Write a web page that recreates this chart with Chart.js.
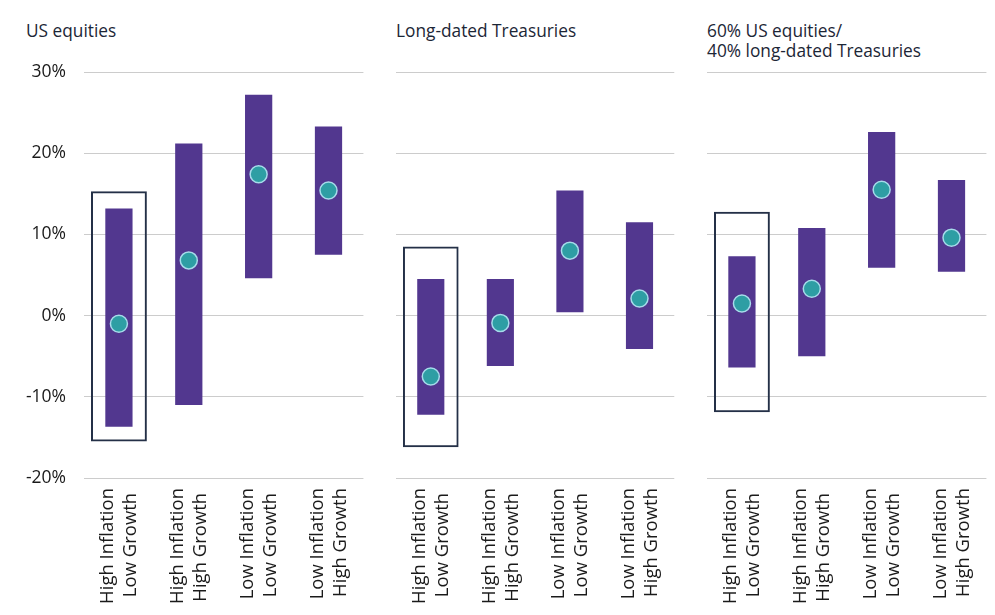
<!DOCTYPE html>
<html>
<head>
<meta charset="utf-8">
<script src="https://cdn.jsdelivr.net/npm/chart.js@4.4.0/dist/chart.umd.min.js"></script>
<style>
  body { margin: 0; background: #fff; overflow: hidden; }
  #wrap { position: relative; width: 995px; height: 615px; overflow: hidden; font-family: 'Open Sans', sans-serif; }
  canvas { position: absolute; top: 0; }
  .title { position: absolute; top: 21px; font-size: 17.3px; line-height: 20px; color: #1c2636; }
</style>
</head>
<body>
<div id="wrap">
  <div class="title" style="left:26px">US equities</div>
  <div class="title" style="left:396px">Long-dated Treasuries</div>
  <div class="title" style="left:707px">60% US equities/<br>40% long-dated Treasuries</div>
  <canvas id="c1" width="378" height="615" style="left:0"></canvas>
  <canvas id="c2" width="307" height="615" style="left:382px"></canvas>
  <canvas id="c3" width="308" height="615" style="left:693px"></canvas>
</div>
<script>
const categories = [
  ['High Inflation', 'Low Growth'],
  ['High Inflation', 'High Growth'],
  ['Low Inflation', 'Low Growth'],
  ['Low Inflation', 'High Growth']
];
const yTicks = [-20, -10, 0, 10, 20, 30];

// US equities
const eqLow = [-13.7, -11.0, 4.6, 7.5];
const eqHigh = [13.2, 21.2, 27.2, 23.3];
const eqMid = [-1.0, 6.8, 17.4, 15.4];
const eqBox = [-15.5, 15.3];

// Long-dated Treasuries
const tsyLow = [-12.2, -6.2, 0.4, -4.1];
const tsyHigh = [4.5, 4.5, 15.4, 11.5];
const tsyMid = [-7.5, -0.9, 8.0, 2.1];
const tsyBox = [-16.2, 8.5];

// 60/40
const mixLow = [-6.4, -5.0, 5.9, 5.4];
const mixHigh = [7.3, 10.8, 22.6, 16.7];
const mixMid = [1.5, 3.3, 15.5, 9.6];
const mixBox = [-11.9, 12.8];

const FONT = "'Open Sans', sans-serif";
const X_FONT_SIZE = 18.5;
const measure = document.createElement('canvas').getContext('2d');
measure.font = X_FONT_SIZE + 'px ' + FONT;

// pad the shorter line so both lines of a rotated label sit centred
function centreLines(lines) {
  const widths = lines.map(l => measure.measureText(l).width);
  const maxW = Math.max(...widths);
  const sp = measure.measureText(' ').width;
  return lines.map((l, i) => l + ' '.repeat(Math.round((maxW - widths[i]) / 2 / sp)));
}

function makePanel(id, low, high, mid, box, showY) {
  new Chart(document.getElementById(id), {
    data: {
      labels: categories,
      datasets: [
        {
          type: 'line',
          data: mid,
          showLine: false,
          pointRadius: 8.5,
          pointHoverRadius: 8.5,
          pointBackgroundColor: '#2e9ea4',
          pointBorderColor: '#a6dbea',
          pointBorderWidth: 1.5,
          order: 0
        },
        {
          type: 'bar',
          data: low.map((v, i) => [v, high[i]]),
          backgroundColor: '#52378f',
          barPercentage: 0.39,
          categoryPercentage: 1,
          grouped: false,
          order: 1
        },
        {
          type: 'bar',
          data: [box, null, null, null],
          backgroundColor: 'rgba(0,0,0,0)',
          borderColor: '#243047',
          borderWidth: 2,
          borderSkipped: false,
          barPercentage: 0.8,
          categoryPercentage: 1,
          grouped: false,
          order: 2
        }
      ]
    },
    options: {
      responsive: false,
      animation: false,
      layout: { padding: { top: 72, right: 10, bottom: 0, left: 0 } },
      plugins: { legend: { display: false }, tooltip: { enabled: false } },
      scales: {
        x: {
          offset: true,
          grid: { display: false },
          border: { display: false },
          afterFit: axis => { axis.height = 137; },
          ticks: {
            minRotation: 90,
            maxRotation: 90,
            padding: 2,
            labelOffset: -11,
            color: '#1a1a1a',
            font: { family: FONT, size: X_FONT_SIZE, lineHeight: 1.25 },
            callback: function (v, i) { return centreLines(categories[i]); }
          }
        },
        y: {
          min: yTicks[0],
          max: yTicks[yTicks.length - 1],
          afterBuildTicks: axis => { axis.ticks = yTicks.map(v => ({ value: v })); },
          afterFit: axis => { axis.width = showY ? 84 : 14; },
          grid: { color: '#cccccc', drawTicks: false, lineWidth: 1 },
          border: { display: false },
          ticks: {
            display: showY,
            padding: 18,
            color: '#1a1a1a',
            font: { family: FONT, size: 17.5 },
            callback: v => v + '%'
          }
        }
      }
    }
  });
}

makePanel('c1', eqLow, eqHigh, eqMid, eqBox, true);
makePanel('c2', tsyLow, tsyHigh, tsyMid, tsyBox, false);
makePanel('c3', mixLow, mixHigh, mixMid, mixBox, false);
</script>
</body>
</html>
